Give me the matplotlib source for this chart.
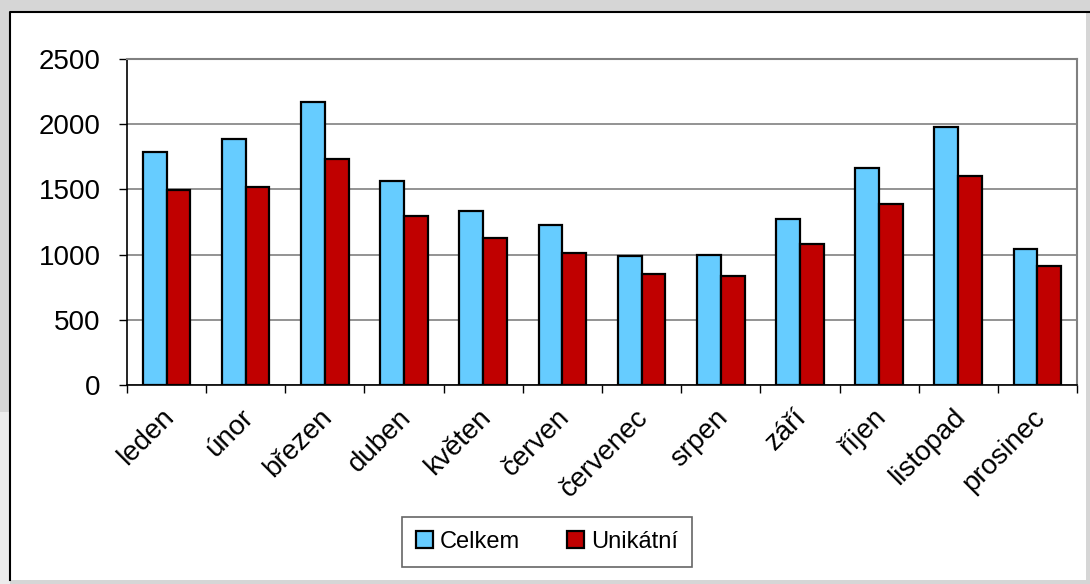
import matplotlib.pyplot as plt
from matplotlib.patches import Rectangle
import matplotlib.transforms as mtransforms
import numpy as np

plt.rcParams['font.family'] = ['Liberation Sans', 'DejaVu Sans']

mesice = ['leden', 'únor', 'březen', 'duben', 'květen', 'červen',
          'červenec', 'srpen', 'září', 'říjen', 'listopad', 'prosinec']
celkem = [1787, 1887, 2170, 1564, 1334, 1227, 989, 997, 1273, 1664, 1978, 1043]
unikatni = [1495, 1518, 1733, 1296, 1127, 1012, 851, 836, 1081, 1388, 1603, 913]

fig = plt.figure(figsize=(10.9, 5.84), dpi=100, facecolor='#d6d6d6')

# white chart area with black frame on left/top
fig.patches.append(Rectangle((0, 0), 10 / 1090, 172 / 584, transform=fig.transFigure,
                             facecolor='#ececec', edgecolor='none', zorder=-3))
fig.patches.append(Rectangle((10 / 1090, 4 / 584), 1076 / 1090, 568 / 584,
                             transform=fig.transFigure, facecolor='white',
                             edgecolor='none', zorder=-3))
fig.lines.append(plt.Line2D([10 / 1090, 10 / 1090, 1090 / 1090], [4 / 584, 572 / 584, 572 / 584],
                            transform=fig.transFigure, color='black', lw=1.5, zorder=-2))

ax = fig.add_axes([127 / 1090, 1 - 385 / 584, 950 / 1090, 326 / 584])
x = np.arange(len(mesice))
w = 0.3
ax.bar(x - w / 2, celkem, w, color='#66ccff', edgecolor='black', lw=1.6, label='Celkem', zorder=3)
ax.bar(x + w / 2, unikatni, w, color='#c00000', edgecolor='black', lw=1.6, label='Unikátní', zorder=3)

ax.set_xlim(-0.5, len(mesice) - 0.5)
ax.set_ylim(0, 2500)
ax.set_yticks(range(0, 2501, 500))
ax.yaxis.grid(True, color='#808080', lw=1.2, zorder=0)
ax.set_axisbelow(True)
ax.tick_params(axis='y', direction='out', length=6, width=1, labelsize=20, pad=13)

ax.set_xticks(x)
ax.set_xticklabels(mesice, rotation=45, ha='right', rotation_mode='anchor')
ax.set_xticks(np.arange(-0.5, len(mesice)), minor=True)
ax.tick_params(axis='x', which='major', length=0, labelsize=20, pad=14)
ax.tick_params(axis='x', which='minor', direction='out', length=6, width=1)
shift = mtransforms.ScaledTranslation(-6 / 100, 0, fig.dpi_scale_trans)
for lab in ax.get_xticklabels():
    lab.set_transform(lab.get_transform() + shift)

for s in ['top', 'right']:
    ax.spines[s].set_color('#808080')
    ax.spines[s].set_linewidth(1.5)
for s in ['left', 'bottom']:
    ax.spines[s].set_color('black')
    ax.spines[s].set_linewidth(1.2)

leg = fig.legend(loc='center', bbox_to_anchor=(547 / 1090, 1 - 542 / 584), ncol=2,
                 fontsize=17, handlelength=0.7, handleheight=0.7, handletextpad=0.3,
                 columnspacing=2.0, fancybox=False, edgecolor='#404040',
                 borderpad=0.6)
leg.get_frame().set_linewidth(1.2)

fig.savefig('out.png', dpi=100, facecolor=fig.get_facecolor())
